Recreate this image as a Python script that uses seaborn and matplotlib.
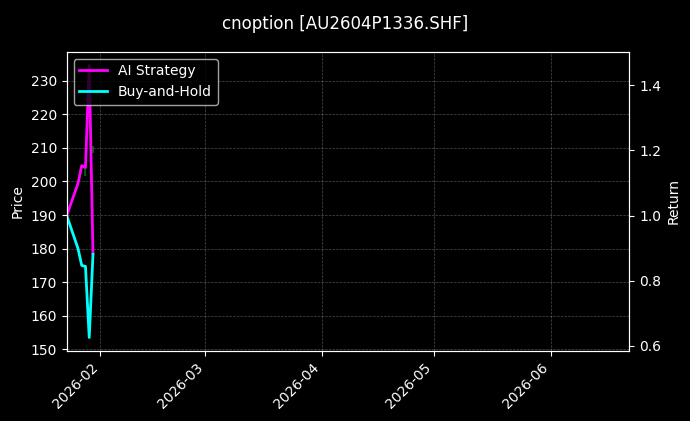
import matplotlib
matplotlib.use("Agg")
import matplotlib.pyplot as plt
import matplotlib.dates as mdates
import seaborn as sns
import pandas as pd

# ---- data ----
dates = ["2026-01-23", "2026-01-26", "2026-01-27", "2026-01-28", "2026-01-29", "2026-01-30"]
ai_strategy = [1.000, 1.098, 1.153, 1.147, 1.460, 0.884]
buy_and_hold = [1.000, 0.899, 0.847, 0.844, 0.626, 0.881]

candle_dates = ["2026-01-28", "2026-01-30"]
candle_low = [201.5, 208.5]
candle_high = [204.2, 210.5]

title = "cnoption [AU2604P1336.SHF]"
x_start, x_end = "2026-01-23", "2026-06-22"

plt.style.use("dark_background")
plt.rcParams["font.family"] = ["DejaVu Sans"]

df = pd.DataFrame({
    "date": pd.to_datetime(dates),
    "AI Strategy": ai_strategy,
    "Buy-and-Hold": buy_and_hold,
})

fig = plt.figure(figsize=(6.9, 4.21), dpi=100)
ax1 = fig.add_axes([0.0967, 0.167, 0.8153, 0.710])
ax1.vlines(pd.to_datetime(candle_dates), candle_low, candle_high,
           color="green", linewidth=1.5, alpha=0.7, zorder=1)
ax1.set_ylim(149.6, 238.6)
ax1.set_ylabel("Price")
ax1.grid(True, linestyle="--", linewidth=0.5, alpha=0.3, color="white")

ax2 = ax1.twinx()
sns.lineplot(data=df, x="date", y="AI Strategy", ax=ax2, color="magenta",
             linewidth=2, label="AI Strategy")
sns.lineplot(data=df, x="date", y="Buy-and-Hold", ax=ax2, color="cyan",
             linewidth=2, label="Buy-and-Hold")
ax2.set_ylim(0.5856, 1.502)
ax2.set_ylabel("Return")
ax2.set_xlabel("")
ax1.set_xlabel("")
ax2.legend(loc="upper left")
ax1.set_xlim(pd.Timestamp(x_start), pd.Timestamp(x_end))

ax1.xaxis.set_major_locator(mdates.MonthLocator())
ax1.xaxis.set_major_formatter(mdates.DateFormatter("%Y-%m"))
for lab in ax1.get_xticklabels():
    lab.set_rotation(45)
    lab.set_ha("right")

for ax in (ax1, ax2):
    for s in ax.spines.values():
        s.set_color("white")

fig.suptitle(title, fontsize=12, y=0.965)
fig.savefig("out.png", dpi=100, facecolor="black")
